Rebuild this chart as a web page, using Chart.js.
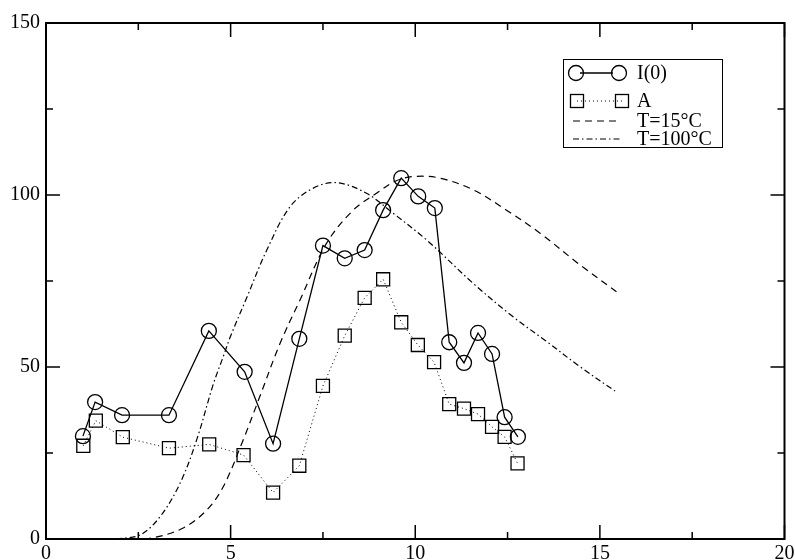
<!DOCTYPE html>
<html lang="en">
<head>
  <meta charset="UTF-8">
  <title>I(0), A and temperature curves</title>
  <script src="https://cdn.jsdelivr.net/npm/chart.js"></script>
  <style>
    body { margin: 0; background: #fff; }
    canvas { display: block; }
  </style>
</head>
<body>
  <canvas id="chart" width="795" height="560"></canvas>
  <script>
    // measured series
    const iX = [1.00, 1.33, 2.06, 3.33, 4.41, 5.38, 6.15, 6.86, 7.50, 8.09, 8.63, 9.13, 9.62, 10.08, 10.53, 10.92, 11.32, 11.70, 12.08, 12.42, 12.78];
    const iY = [29.9, 39.8, 36.0, 36.0, 60.5, 48.6, 27.7, 58.2, 85.3, 81.6, 84.0, 95.6, 104.9, 99.6, 96.2, 57.2, 51.2, 59.9, 53.8, 35.4, 29.7];
    const aX = [1.01, 1.35, 2.08, 3.33, 4.42, 5.35, 6.15, 6.86, 7.50, 8.09, 8.63, 9.13, 9.62, 10.07, 10.51, 10.92, 11.32, 11.70, 12.08, 12.42, 12.77];
    const aY = [27.1, 34.4, 29.6, 26.4, 27.5, 24.4, 13.5, 21.3, 44.5, 59.1, 70.1, 75.5, 63.0, 56.4, 51.4, 39.2, 37.9, 36.3, 32.6, 29.7, 22.0];

    // model curves
    const t15X = [2.0, 2.8, 3.7, 4.35, 4.8, 5.34, 5.79, 6.34, 6.88, 7.6, 8.32, 8.95, 9.5, 10.0, 10.67, 11.57, 12.47, 13.38, 14.46, 15.45];
    const t15Y = [0, 0.2, 3.1, 8.4, 15.2, 28.8, 41.4, 56.9, 69.5, 86.0, 95.6, 100.5, 104.2, 105.4, 104.9, 101.5, 95.6, 88.9, 79.7, 71.9];
    const t100X = [1.9, 2.55, 3.09, 3.63, 4.08, 4.53, 4.8, 5.0, 5.43, 5.98, 6.61, 7.24, 7.87, 8.68, 9.4, 10.31, 11.57, 12.65, 13.56, 14.46, 15.41];
    const t100Y = [0, 1.2, 6.5, 16.2, 28.8, 45.0, 53.0, 59.0, 70.0, 84.0, 96.6, 102.0, 103.6, 100.5, 94.7, 86.9, 74.3, 64.6, 57.4, 50.1, 43.0];

    const xTicks = [0, 5, 10, 15, 20];
    const yTicks = [0, 50, 100, 150];
    const legendLabels = ['I(0)', 'A', 'T=15°C', 'T=100°C'];

    const FONT = '"Liberation Serif", "DejaVu Serif", serif';
    const pts = (xs, ys) => xs.map((x, i) => ({ x: x, y: ys[i] }));

    // inward ticks on all four sides, the frame and the boxed legend
    const framePlugin = {
      id: 'frame',
      afterDraw(chart) {
        const ctx = chart.ctx;
        const { left, right, top, bottom } = chart.chartArea;
        const xs = chart.scales.x, ys = chart.scales.y;
        ctx.save();
        ctx.strokeStyle = '#000';
        ctx.lineWidth = 1.5;
        ctx.beginPath();
        for (let v = 0; v <= 20; v += 2.5) {
          const p = xs.getPixelForValue(v);
          const len = v % 5 === 0 ? 14 : 7;
          ctx.moveTo(p, bottom); ctx.lineTo(p, bottom - len);
          ctx.moveTo(p, top); ctx.lineTo(p, top + len);
        }
        for (let v = 0; v <= 150; v += 25) {
          const p = ys.getPixelForValue(v);
          const len = v % 50 === 0 ? 14 : 7;
          ctx.moveTo(left, p); ctx.lineTo(left + len, p);
          ctx.moveTo(right, p); ctx.lineTo(right - len, p);
        }
        ctx.stroke();
        ctx.lineWidth = 2;
        ctx.strokeRect(left, top, right - left, bottom - top);

        // legend
        ctx.lineWidth = 1;
        ctx.strokeRect(563.5, 59.5, 159, 88);
        const rows = [73, 101, 121, 139];
        const x0 = 573, x1 = 620, tx = 637;
        ctx.font = '20px ' + FONT;
        ctx.fillStyle = '#000';
        ctx.textBaseline = 'middle';
        legendLabels.forEach((t, i) => ctx.fillText(t, tx, rows[i] + 1));

        ctx.lineWidth = 1.3;
        ctx.beginPath();
        ctx.moveTo(x0 + 7, rows[0]); ctx.lineTo(x1 - 7, rows[0]);
        ctx.stroke();
        [x0 + 3, x1 - 1].forEach(cx => {
          ctx.beginPath();
          ctx.arc(cx, rows[0], 7.5, 0, Math.PI * 2);
          ctx.stroke();
        });

        ctx.lineWidth = 1;
        ctx.setLineDash([1, 3]);
        ctx.beginPath();
        ctx.moveTo(x0 + 4, rows[1]); ctx.lineTo(x1 + 2, rows[1]);
        ctx.stroke();
        ctx.setLineDash([]);
        ctx.lineWidth = 1.3;
        [x0 + 4, x1 + 2].forEach(cx => ctx.strokeRect(cx - 6.5, rows[1] - 6.5, 13, 13));

        ctx.lineWidth = 1.2;
        ctx.setLineDash([7, 5]);
        ctx.beginPath();
        ctx.moveTo(x0, rows[2]); ctx.lineTo(x1, rows[2]);
        ctx.stroke();
        ctx.setLineDash([6, 3, 1.5, 3]);
        ctx.beginPath();
        ctx.moveTo(x0, rows[3]); ctx.lineTo(x1, rows[3]);
        ctx.stroke();
        ctx.restore();
      }
    };

    new Chart(document.getElementById('chart'), {
      type: 'line',
      data: {
        datasets: [
          {
            label: 'I(0)',
            data: pts(iX, iY),
            borderColor: '#000',
            borderWidth: 1.3,
            backgroundColor: 'rgba(0,0,0,0)',
            pointStyle: 'circle',
            pointRadius: 7.5,
            pointBorderWidth: 1.3,
            pointBorderColor: '#000',
            pointBackgroundColor: 'rgba(0,0,0,0)',
            tension: 0
          },
          {
            label: 'A',
            data: pts(aX, aY),
            borderColor: '#000',
            borderWidth: 1,
            borderDash: [1, 3],
            backgroundColor: 'rgba(0,0,0,0)',
            pointStyle: 'rect',
            pointRadius: 9.2,
            pointBorderWidth: 1.3,
            pointBorderColor: '#000',
            pointBackgroundColor: 'rgba(0,0,0,0)',
            tension: 0
          },
          {
            label: 'T=15°C',
            data: pts(t15X, t15Y),
            borderColor: '#000',
            borderWidth: 1.2,
            borderDash: [7, 5],
            pointRadius: 0,
            tension: 0.35
          },
          {
            label: 'T=100°C',
            data: pts(t100X, t100Y),
            borderColor: '#000',
            borderWidth: 1.2,
            borderDash: [6, 3, 1.5, 3],
            pointRadius: 0,
            tension: 0.35
          }
        ]
      },
      options: {
        responsive: false,
        animation: false,
        layout: { padding: { top: 23, right: 10, left: 0, bottom: 0 } },
        plugins: { legend: { display: false }, tooltip: { enabled: false } },
        scales: {
          x: {
            type: 'linear',
            min: 0,
            max: 20,
            afterBuildTicks: s => { s.ticks = xTicks.map(v => ({ value: v })); },
            afterFit: s => { s.height = 21; s.paddingLeft = 0; s.paddingRight = 0; },
            grid: { display: false, drawTicks: false },
            border: { display: false },
            ticks: { padding: 3, autoSkip: false, maxRotation: 0, color: '#000', font: { family: FONT, size: 20 } }
          },
          y: {
            min: 0,
            max: 150,
            afterBuildTicks: s => { s.ticks = yTicks.map(v => ({ value: v })); },
            afterFit: s => { s.width = 46; s.paddingTop = 0; s.paddingBottom = 0; },
            grid: { display: false, drawTicks: false },
            border: { display: false },
            ticks: { padding: 6, color: '#000', font: { family: FONT, size: 20 } }
          }
        }
      },
      plugins: [framePlugin]
    });
  </script>
</body>
</html>
